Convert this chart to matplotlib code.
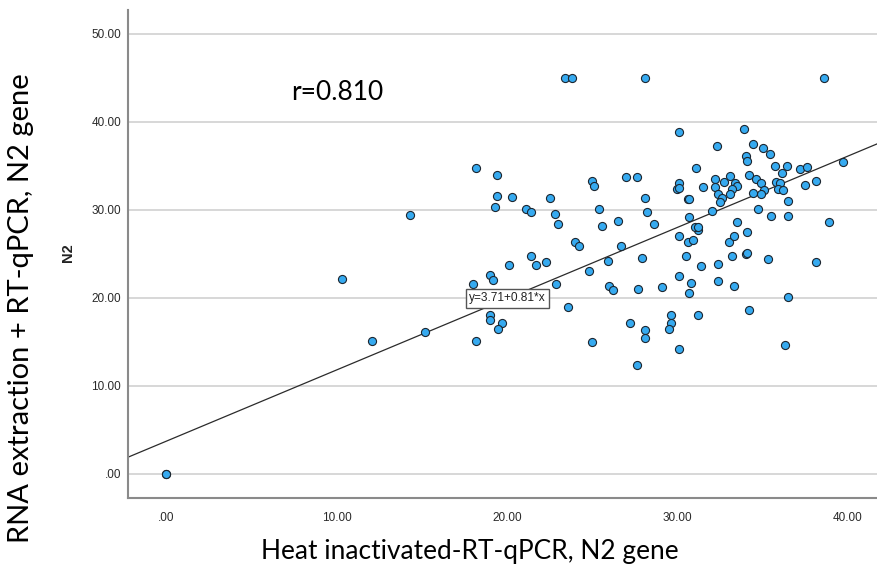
import matplotlib
matplotlib.use("Agg")
import matplotlib.pyplot as plt

# heat inactivated RT-qPCR (x) vs RNA extraction + RT-qPCR (y), N2 gene Ct values
heat_ct = [0.0, 0.0, 10.3, 12.1, 14.3, 15.2, 18.2, 18.0, 19.0, 19.2, 20.1, 21.4, 21.7, 22.3,
           24.0, 24.2, 24.8, 22.9, 23.6, 25.0, 19.0, 19.0, 19.7, 19.5, 26.7, 25.9, 27.9,
           26.0, 26.2, 27.7, 27.2, 28.1, 28.1, 27.6, 29.1, 29.6, 29.6, 29.5, 30.1, 30.5,
           30.1, 30.8, 30.7, 31.2, 31.4, 32.4, 32.4, 33.3, 33.2, 34.0, 34.1, 34.2, 35.3,
           36.5, 36.3, 38.1, 30.6, 30.9, 33.0, 30.1, 33.3, 34.1, 31.2, 30.1, 33.9, 32.3,
           34.4, 35.0, 35.4, 34.0, 34.1, 31.1, 35.7, 36.4, 37.2, 37.6, 39.7, 36.1, 34.2,
           34.6, 34.9, 35.8, 36.0, 35.9, 36.2, 35.1, 34.9, 34.4, 36.5, 38.1, 37.5, 34.7,
           35.5, 36.5, 38.9, 32.2, 32.2, 32.7, 33.1, 33.4, 33.5, 33.2, 33.1, 32.4, 32.6,
           32.5, 30.1, 30.0, 30.1, 31.5, 30.6, 30.7, 28.1, 28.2, 28.6, 32.0, 30.7, 31.0,
           31.2, 33.5, 18.2, 19.4, 19.4, 19.3, 20.3, 21.1, 21.4, 22.5, 22.8, 23.0, 25.0,
           25.1, 25.4, 25.6, 26.5, 27.0, 27.6, 23.4, 23.8, 28.1, 38.6]
rna_ct = [0.0, 0.0, 22.1, 15.1, 29.4, 16.1, 15.1, 21.6, 22.6, 22.0, 23.7, 24.8, 23.7, 24.1,
          26.3, 25.9, 23.1, 21.6, 19.0, 15.0, 18.1, 17.5, 17.1, 16.5, 25.9, 24.2, 24.5,
          21.4, 20.9, 21.0, 17.2, 16.3, 15.4, 12.4, 21.2, 18.1, 17.2, 16.5, 14.2, 24.8,
          22.5, 21.7, 20.6, 18.1, 23.6, 23.9, 21.9, 21.4, 24.8, 25.0, 25.1, 18.6, 24.4,
          20.1, 14.7, 24.1, 26.4, 26.6, 26.4, 27.0, 27.0, 27.5, 27.7, 38.8, 39.2, 37.3,
          37.5, 37.0, 36.4, 36.1, 35.6, 34.7, 35.0, 35.0, 34.6, 34.9, 35.4, 34.2, 34.0,
          33.5, 33.1, 33.2, 33.1, 32.4, 32.3, 32.3, 31.8, 31.9, 31.0, 33.3, 32.8, 30.1,
          29.3, 29.3, 28.6, 33.5, 32.6, 33.2, 33.8, 33.1, 32.7, 32.4, 31.8, 31.8, 31.4,
          30.9, 33.1, 32.4, 32.5, 32.6, 31.2, 31.2, 31.4, 29.8, 28.4, 29.9, 29.2, 28.1,
          28.0, 28.6, 34.7, 34.0, 31.6, 30.3, 31.5, 30.1, 29.7, 31.3, 29.5, 28.4, 33.3,
          32.7, 30.1, 28.2, 28.75, 33.7, 33.7, 45.0, 45.0, 45.0, 45.0]

intercept = 3.71
slope = 0.81

x_ticks = [0, 10, 20, 30, 40]
x_tick_labels = ['.00', '10.00', '20.00', '30.00', '40.00']
y_ticks = [0, 10, 20, 30, 40, 50]
y_tick_labels = ['.00', '10.00', '20.00', '30.00', '40.00', '50.00']

W, H = 878, 575
fig = plt.figure(figsize=(W / 100, H / 100), dpi=100)
ax = fig.add_axes([128 / W, 1 - 498 / H, 1 - 128 / W, (498 - 10) / H])

xlim = (-2.23, 41.76)
ylim = (-2.73, 52.7)
ax.set_xlim(*xlim)
ax.set_ylim(*ylim)

# horizontal grid
for yt in y_ticks:
    ax.axhline(yt, color='#d4d4d4', lw=1.3, zorder=1)

# fit line
ax.plot(list(xlim), [intercept + slope * xlim[0], intercept + slope * xlim[1]],
        color='#2b2b2b', lw=0.9, zorder=2)

ax.scatter(heat_ct, rna_ct, s=34, facecolor='#36aaf0', edgecolor='#1c2630',
           linewidths=0.8, zorder=3)

ax.text(20.03, 19.94, 'y=3.71+0.81*x', ha='center', va='center', fontsize=8.6,
        family='Liberation Sans', color='#222222', zorder=5,
        bbox=dict(boxstyle='square,pad=0.28', facecolor='white', edgecolor='#555555', lw=1))

ax.set_xticks(x_ticks)
ax.set_xticklabels(x_tick_labels)
ax.set_yticks(y_ticks)
ax.set_yticklabels(y_tick_labels)
ax.tick_params(axis='both', length=0, labelsize=8.5, colors='#2a2a2a')
ax.tick_params(axis='x', pad=10)
ax.tick_params(axis='y', pad=5)
for lab in ax.get_xticklabels() + ax.get_yticklabels():
    lab.set_family('Liberation Sans')

for side in ['top', 'right']:
    ax.spines[side].set_visible(False)
for side in ['left', 'bottom']:
    ax.spines[side].set_color('#8a8a8a')
    ax.spines[side].set_linewidth(1.5)

# SPSS y label (rotated)
fig.text(68 / W, 1 - 253 / H, 'N2', rotation=90, ha='center', va='center',
         fontsize=10.5, fontweight='bold', family='Liberation Sans', color='#222222')

fig.text(337 / W, 1 - 92 / H, 'r=0.810', ha='center', va='center', fontsize=19,
         family='Lato', color='black')

fig.text(470 / W, 1 - 552 / H, 'Heat inactivated-RT-qPCR, N2 gene', ha='center',
         va='center', fontsize=18.9, family='Lato', color='black')
fig.text(21 / W, 1 - 308 / H, 'RNA extraction + RT-qPCR, N2 gene', ha='center',
         va='center', rotation=90, fontsize=21, family='Lato', color='black')

plt.savefig('out.png', dpi=100)
